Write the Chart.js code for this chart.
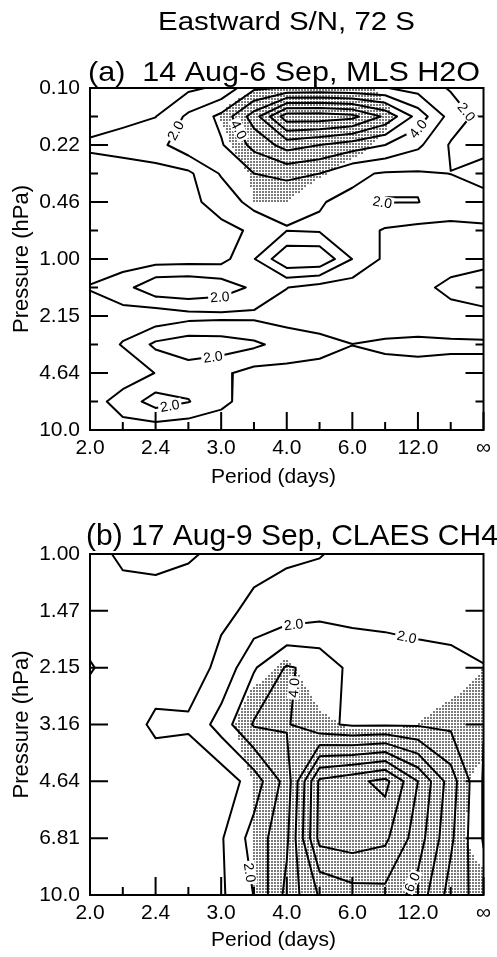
<!DOCTYPE html>
<html>
<head>
<meta charset="utf-8">
<script src="https://cdn.jsdelivr.net/npm/chart.js@4.4.1/dist/chart.umd.min.js"></script>
<style>
  html, body { margin: 0; padding: 0; background: #fff; }
  #wrap { position: relative; width: 497px; height: 957px; overflow: hidden; background: #fff; }
  #wrap canvas { position: absolute; left: 0; }
  #cA { top: 0; }
  #cB { top: 490px; }
</style>
</head>
<body>
<div id="wrap">
  <canvas id="cA" width="497" height="490"></canvas>
  <canvas id="cB" width="497" height="467"></canvas>
</div>
<script>
// ---------------------------------------------------------------------------
// Axes: period bins are k/24 cycles per day, from 0.5 (2 days) down to 0
// (infinite period); every second bin carries a label.
// ---------------------------------------------------------------------------
const periodTicks = ['2.0', '2.4', '3.0', '4.0', '6.0', '12.0', '\u221E'];
const pressureTicksMLS = ['10.0', '4.64', '2.15', '1.00', '0.46', '0.22', '0.10'];
const pressureTicksCLAES = ['10.0', '6.81', '4.64', '3.16', '2.15', '1.47', '1.00'];
const contourLevels = [1, 2, 3, 4, 5, 6, 7, 8, 9];

// Eastward signal-to-noise, MLS H2O. Columns: 13 period bins (2.0 d ... inf).
// Rows: pressure levels from 0.10 hPa (top of panel) down to 10.0 hPa.
const snMLS = [
  [0.6, 0.7, 0.8, 0.8, 1.2, 2.8, 3.1, 3.2, 3.1, 3.05, 2.6, 1.9, 1.5],   // 0.100
  [0.6, 0.8, 0.98, 2.2, 3.25, 5.5, 8.6, 8.6, 8.3, 6.8, 4.6, 2.6, 1.6],  // 0.147
  [1.14, 1.3, 1.6, 2.7, 2.9, 4.3, 5.4, 5.0, 4.5, 4.0, 3.2, 1.9, 1.65],  // 0.215
  [0.62, 0.63, 0.65, 0.8, 2.1, 3.0, 3.3, 3.0, 2.2, 1.9, 1.9, 2.01, 2.4], // 0.316
  [0.6, 0.6, 0.7, 0.8, 1.3, 2.4, 2.1, 2.05, 1.8, 2.02, 2.02, 1.6, 1.62], // 0.464
  [0.5, 0.5, 0.6, 0.7, 0.8, 1.1, 1.98, 1.9, 1.5, 0.9, 0.7, 0.7, 0.8],   // 0.681
  [0.5, 0.5, 0.55, 0.6, 0.64, 1.95, 3.9, 3.9, 1.98, 0.8, 0.6, 0.5, 0.4], // 1.00
  [1.06, 1.6, 2.8, 2.9, 2.6, 1.8, 1.02, 0.6, 0.5, 0.6, 0.7, 1.28, 2.02], // 1.47
  [0.5, 0.62, 0.3, 0.65, 0.75, 0.79, 0.6, 0.5, 0.5, 0.6, 0.6, 0.6, 0.5], // 2.15
  [0.5, 1.05, 2.21, 2.6, 2.5, 2.2, 1.6, 1.3, 1.01, 1.1, 1.15, 1.1, 1.1], // 3.16
  [0.5, 0.5, 1.02, 1.5, 1.2, 0.64, 0.7, 0.7, 0.7, 0.8, 0.8, 0.8, 0.8],  // 4.64
  [0.6, 1.38, 2.46, 2.05, 1.2, 0.6, 0.5, 0.5, 0.5, 0.5, 0.5, 0.5, 0.5], // 6.81
  [0.95, 0.68, 0.43, 0.3, 0.5, 0.5, 0.5, 0.5, 0.5, 0.5, 0.5, 0.5, 0.5]  // 10.0
];
// Stippled where this field exceeds 0.5 (same grid as above).
const shadeMLS = [
  [0, 0, 0, 0, 0.2, 0.45, 1, 1, 1, 0.3, 0, 0, 0],
  [0, 0, 0, 0, 0.55, 1, 1, 1, 1, 0.7, 0, 0, 0],
  [0, 0, 0, 0, 0.3, 1, 1, 1, 0.8, 0.3, 0, 0, 0],
  [0, 0, 0, 0, 0, 0.6, 1, 0.6, 0.2, 0, 0, 0, 0],
  [0, 0, 0, 0, 0, 0.5, 0.5, 0, 0, 0, 0, 0, 0],
  [0, 0, 0, 0, 0, 0, 0, 0, 0, 0, 0, 0, 0],
  [0, 0, 0, 0, 0, 0, 0, 0, 0, 0, 0, 0, 0],
  [0, 0, 0, 0, 0, 0, 0, 0, 0, 0, 0, 0, 0],
  [0, 0, 0, 0, 0, 0, 0, 0, 0, 0, 0, 0, 0],
  [0, 0, 0, 0, 0, 0, 0, 0, 0, 0, 0, 0, 0],
  [0, 0, 0, 0, 0, 0, 0, 0, 0, 0, 0, 0, 0],
  [0, 0, 0, 0, 0, 0, 0, 0, 0, 0, 0, 0, 0],
  [0, 0, 0, 0, 0, 0, 0, 0, 0, 0, 0, 0, 0]
];

// Eastward signal-to-noise, CLAES CH4. Rows: 1.00 hPa (top) down to 10.0 hPa.
const snCLAES = [
  [0.6, 1.2, 1.3, 1.1, 0.8, 0.8, 0.9, 0.95, 1.3, 1.5, 1.6, 1.6, 1.6],   // 1.00
  [0.3, 0.5, 0.49, 0.5, 0.85, 1.14, 1.3, 1.6, 1.7, 1.7, 1.7, 1.7, 1.75], // 1.47
  [1.1, 0.4, 0.5, 0.6, 1.2, 2.9, 4.1, 3.73, 2.69, 2.5, 2.3, 2.2, 2.02], // 2.15
  [0.3, 0.5, 1.19, 1.12, 2.45, 4.1, 4.1, 3.2, 2.87, 2.9, 2.9, 2.8, 2.05], // 3.16
  [0.3, 0.3, 0.4, 0.4, 0.36, 1.47, 3.41, 8.2, 8.7, 9.3, 7.0, 4.5, 1.9], // 4.64
  [0.5, 0.5, 0.5, 0.6, 0.9, 2.41, 3.8, 8.3, 8.5, 8.2, 6.5, 4.2, 1.9],   // 6.81
  [0.5, 0.5, 0.5, 0.5, 0.85, 2.03, 4.3, 6.1, 6.6, 6.7, 5.6, 3.6, 2.5]   // 10.0
];
const shadeCLAES = [
  [0, 0, 0, 0, 0, 0, 0, 0, 0, 0, 0, 0, 0],
  [0, 0, 0, 0, 0, 0, 0, 0, 0, 0, 0, 0, 0.3],
  [0, 0, 0, 0, 0, 0.3, 0.6, 0.2, 0, 0, 0, 0.1, 0.5],
  [0, 0, 0, 0, 0.2, 0.9, 1, 0.6, 0.45, 0.45, 0.5, 0.8, 1],
  [0, 0, 0, 0, 0.1, 0.5, 1, 1, 1, 1, 1, 0.9, 0.2],
  [0, 0, 0, 0, 0, 0.5, 1, 1, 1, 1, 1, 0.9, 0.0],
  [0, 0, 0, 0, 0, 0.55, 1, 1, 1, 1, 1, 1, 1]
];

// In-line contour labels: [level, period bin, pressure index] near which each sits.
const labelSpotsMLS = [[2, 2.53, 10.56], [4, 4.29, 10.39], [4, 10.14, 10.32], [2, 11.33, 11.02],
                       [2, 8.9, 7.9], [2, 3.96, 4.67], [2, 3.75, 2.56], [2, 2.44, 0.81]];
const labelSpotsCLAES = [[2, 6.18, 4.91], [2, 9.66, 4.54], [2, 4.81, 0.39], [4, 6.3, 3.64], [6, 9.23, 0.39]];

const FONT = "'Liberation Sans', Arial, Helvetica, sans-serif";

// ---------------------------------------------------------------------------
// Marching squares on a grid indexed [j][i] with j = 0 at the bottom.
// ---------------------------------------------------------------------------
function bottomUp(rows) { return rows.slice().reverse(); }

function contourSegments(g, level) {
  const segs = [];
  const nj = g.length, ni = g[0].length;
  for (let j = 0; j < nj - 1; j++) {
    for (let i = 0; i < ni - 1; i++) {
      const bl = g[j][i], br = g[j][i + 1], tr = g[j + 1][i + 1], tl = g[j + 1][i];
      const idx = (bl >= level ? 1 : 0) | (br >= level ? 2 : 0) | (tr >= level ? 4 : 0) | (tl >= level ? 8 : 0);
      if (idx === 0 || idx === 15) continue;
      const f = (a, b) => (level - a) / (b - a);
      const E = {
        b: () => ({ key: 'h' + i + '_' + j, x: i + f(bl, br), y: j }),
        r: () => ({ key: 'v' + (i + 1) + '_' + j, x: i + 1, y: j + f(br, tr) }),
        t: () => ({ key: 'h' + i + '_' + (j + 1), x: i + f(tl, tr), y: j + 1 }),
        l: () => ({ key: 'v' + i + '_' + j, x: i, y: j + f(bl, tl) })
      };
      const centre = (bl + br + tr + tl) / 4 >= level;
      let pairs;
      switch (idx) {
        case 1: case 14: pairs = [['l', 'b']]; break;
        case 2: case 13: pairs = [['b', 'r']]; break;
        case 3: case 12: pairs = [['l', 'r']]; break;
        case 4: case 11: pairs = [['r', 't']]; break;
        case 6: case 9: pairs = [['b', 't']]; break;
        case 7: case 8: pairs = [['l', 't']]; break;
        case 5: pairs = centre ? [['l', 't'], ['b', 'r']] : [['l', 'b'], ['r', 't']]; break;
        case 10: pairs = centre ? [['l', 'b'], ['r', 't']] : [['b', 'r'], ['l', 't']]; break;
      }
      for (const [p, q] of pairs) segs.push([E[p](), E[q]()]);
    }
  }
  return segs;
}

function joinSegments(segs) {
  const byKey = new Map();
  segs.forEach((s, n) => s.forEach(p => {
    if (!byKey.has(p.key)) byKey.set(p.key, []);
    byKey.get(p.key).push(n);
  }));
  const used = new Array(segs.length).fill(false);
  const lines = [];
  for (let n = 0; n < segs.length; n++) {
    if (used[n]) continue;
    used[n] = true;
    const line = [segs[n][0], segs[n][1]];
    for (const forward of [true, false]) {
      for (;;) {
        const end = forward ? line[line.length - 1] : line[0];
        const m = (byKey.get(end.key) || []).find(k => !used[k]);
        if (m === undefined) break;
        used[m] = true;
        const s = segs[m];
        const next = s[0].key === end.key ? s[1] : s[0];
        if (forward) line.push(next); else line.unshift(next);
      }
    }
    lines.push(line);
  }
  return lines;
}

function buildContours(rows) {
  const g = bottomUp(rows);
  const out = {};
  for (const lev of contourLevels) out[lev] = joinSegments(contourSegments(g, lev));
  return out;
}

function contourDatasets(contours) {
  return contourLevels.map(lev => {
    const data = [];
    contours[lev].forEach((line, k) => {
      if (k > 0) data.push({ x: NaN, y: null });
      line.forEach(p => data.push({ x: p.x, y: p.y }));
    });
    return {
      label: lev.toFixed(1), data, showLine: true, spanGaps: false,
      borderColor: '#000', borderWidth: 2, pointRadius: 0, tension: 0,
      borderJoinStyle: 'round', borderCapStyle: 'round'
    };
  });
}

// Bilinear value of a bottom-up grid at fractional (x, y).
function sampleGrid(g, x, y) {
  const ni = g[0].length, nj = g.length;
  x = Math.max(0, Math.min(ni - 1, x)); y = Math.max(0, Math.min(nj - 1, y));
  const i = Math.min(ni - 2, Math.floor(x)), j = Math.min(nj - 2, Math.floor(y));
  const u = x - i, v = y - j;
  return g[j][i] * (1 - u) * (1 - v) + g[j][i + 1] * u * (1 - v) +
         g[j + 1][i] * (1 - u) * v + g[j + 1][i + 1] * u * v;
}

// ---------------------------------------------------------------------------
// Plugins
// ---------------------------------------------------------------------------
// Stipple: small grey dots on a 3 px lattice wherever the shade field >= 0.5.
const shadePlugin = {
  id: 'shade',
  beforeDatasetsDraw(chart, args, opts) {
    const { ctx, chartArea: a, scales: { x, y } } = chart;
    const g = bottomUp(opts.grid);
    ctx.save();
    ctx.fillStyle = '#7a7a7a';
    const x0 = Math.ceil(a.left) + 1, y0 = Math.ceil(a.top) + 1;
    for (let py = y0; py < a.bottom - 1; py += 3) {
      const yv = y.getValueForPixel(py + 1);
      for (let px = x0; px < a.right - 1; px += 3) {
        if (sampleGrid(g, x.getValueForPixel(px + 1), yv) >= 0.5) ctx.fillRect(px, py, 2, 2);
      }
    }
    ctx.restore();
  }
};

const framePlugin = {
  id: 'frame',
  afterDatasetsDraw(chart, args, opts) {
    const { ctx, chartArea: a, scales: { x, y } } = chart;
    ctx.save();
    ctx.strokeStyle = '#000';
    ctx.lineWidth = 2;
    ctx.beginPath();
    for (let i = 0; i <= 12; i++) {
      const px = x.getPixelForValue(i);
      const len = i % 2 === 0 ? 18 : 8;
      ctx.moveTo(px, a.bottom); ctx.lineTo(px, a.bottom - len);
    }
    for (let j = 0; j <= opts.levels; j++) {
      const py = y.getPixelForValue(j);
      const len = j % opts.majorEvery === 0 ? 18 : 8;
      ctx.moveTo(a.left, py); ctx.lineTo(a.left + len, py);
      ctx.moveTo(a.right, py); ctx.lineTo(a.right - len, py);
    }
    ctx.stroke();
    ctx.strokeRect(a.left, a.top, a.right - a.left, a.bottom - a.top);
    ctx.restore();
  }
};

const contourLabelPlugin = {
  id: 'contourLabels',
  afterDatasetsDraw(chart, args, opts) {
    const { ctx, scales: { x, y } } = chart;
    ctx.save();
    ctx.font = '14px ' + FONT;
    ctx.textAlign = 'center';
    ctx.textBaseline = 'middle';
    for (const [lev, sx, sy] of opts.spots) {
      const tx = x.getPixelForValue(sx), ty = y.getPixelForValue(sy);
      let best = null;
      for (const line of opts.contours[lev]) {
        for (let k = 0; k < line.length - 1; k++) {
          const x1 = x.getPixelForValue(line[k].x), y1 = y.getPixelForValue(line[k].y);
          const x2 = x.getPixelForValue(line[k + 1].x), y2 = y.getPixelForValue(line[k + 1].y);
          const dx = x2 - x1, dy = y2 - y1, L2 = dx * dx + dy * dy;
          let t = L2 > 0 ? ((tx - x1) * dx + (ty - y1) * dy) / L2 : 0;
          t = Math.max(0, Math.min(1, t));
          const qx = x1 + t * dx, qy = y1 + t * dy;
          const d = Math.hypot(qx - tx, qy - ty);
          if (!best || d < best.d) best = { d, qx, qy, ang: Math.atan2(dy, dx) };
        }
      }
      if (!best || best.d > 25) continue;
      let ang = best.ang;
      if (ang > Math.PI / 2) ang -= Math.PI;
      if (ang < -Math.PI / 2) ang += Math.PI;
      const text = lev.toFixed(1);
      const w = ctx.measureText(text).width;
      ctx.save();
      ctx.translate(best.qx, best.qy);
      ctx.rotate(ang);
      ctx.fillStyle = '#fff';
      ctx.fillRect(-w / 2 - 2, -6, w + 4, 12);
      ctx.fillStyle = '#000';
      ctx.fillText(text, 0, 1);
      ctx.restore();
    }
    ctx.restore();
  }
};

function drawTextItem(ctx, it) {
  ctx.save();
  ctx.font = it.size + 'px ' + FONT;
  ctx.fillStyle = '#000';
  ctx.textBaseline = it.baseline || 'alphabetic';
  ctx.translate(it.x, it.y);
  if (it.rotate) ctx.rotate(it.rotate);
  const w = ctx.measureText(it.text).width;
  const sx = it.width ? it.width / w : 1;
  ctx.scale(sx, 1);
  ctx.textAlign = it.align || 'left';
  ctx.fillText(it.text, 0, 0);
  ctx.restore();
}

const textPlugin = {
  id: 'texts',
  afterDraw(chart, args, opts) {
    for (const it of opts.items) drawTextItem(chart.ctx, it);
  }
};

// ---------------------------------------------------------------------------
function makePanel(canvasId, rows, shade, pressureTicks, levels, majorEvery, spots, padTop, xAxisHeight, texts) {
  const contours = buildContours(rows);
  return new Chart(document.getElementById(canvasId), {
    type: 'scatter',
    data: { datasets: contourDatasets(contours) },
    options: {
      animation: false,
      responsive: false,
      devicePixelRatio: 1,
      events: [],
      layout: { padding: { top: padTop, right: 13, left: 0, bottom: 0 } },
      plugins: {
        legend: { display: false },
        tooltip: { enabled: false },
        shade: { grid: shade },
        frame: { levels, majorEvery },
        contourLabels: { spots, contours },
        texts: { items: texts }
      },
      scales: {
        x: {
          type: 'linear', min: 0, max: 12, position: 'bottom',
          afterFit(s) { s.height = xAxisHeight; },
          afterBuildTicks(s) { s.ticks = periodTicks.map((_, k) => ({ value: 2 * k })); },
          ticks: {
            autoSkip: false, maxRotation: 0, minRotation: 0, padding: 6, color: '#000',
            font: { family: FONT, size: 21 },
            callback: (v, k) => periodTicks[k]
          },
          grid: { display: false, drawTicks: false },
          border: { display: false }
        },
        y: {
          type: 'linear', min: 0, max: levels, position: 'left',
          afterFit(s) { s.width = 90; },
          afterBuildTicks(s) { s.ticks = pressureTicks.map((_, k) => ({ value: k * majorEvery })); },
          ticks: {
            autoSkip: false, padding: 10, color: '#000',
            font: { family: FONT, size: 21 },
            callback: (v, k) => pressureTicks[k]
          },
          grid: { display: false, drawTicks: false },
          border: { display: false }
        }
      }
    },
    plugins: [shadePlugin, framePlugin, contourLabelPlugin, textPlugin]
  });
}

makePanel('cA', snMLS, shadeMLS, pressureTicksMLS, 12, 2, labelSpotsMLS, 88, 60, [
  { text: 'Eastward S/N, 72 S', x: 286.5, y: 30, size: 25, width: 257, align: 'center' },
  { text: '(a)  14 Aug-6 Sep, MLS H2O', x: 88, y: 81, size: 28, width: 392, align: 'left' },
  { text: 'Pressure (hPa)', x: 22, y: 259, size: 22, rotate: -Math.PI / 2, align: 'center', baseline: 'middle' },
  { text: 'Period (days)', x: 273.5, y: 477, size: 21, align: 'center', baseline: 'middle' }
]);

makePanel('cB', snCLAES, shadeCLAES, pressureTicksCLAES, 6, 1, labelSpotsCLAES, 64, 62, [
  { text: '(b) 17 Aug-9 Sep, CLAES CH4', x: 86, y: 55, size: 30, align: 'left' },
  { text: 'Pressure (hPa)', x: 22, y: 234.5, size: 22, rotate: -Math.PI / 2, align: 'center', baseline: 'middle' },
  { text: 'Period (days)', x: 273.5, y: 450, size: 21, align: 'center', baseline: 'middle' }
]);
</script>
</body>
</html>
